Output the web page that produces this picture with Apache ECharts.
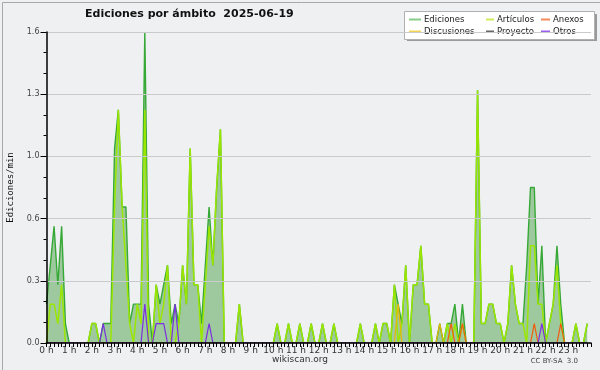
<!DOCTYPE html>
<html><head><meta charset="utf-8">
<script src="https://cdn.jsdelivr.net/npm/echarts@6/dist/echarts.min.js"></script>
<style>html,body{margin:0;padding:0;background:#eff0f1}#c{width:600px;height:370px}</style>
</head><body><div id="c"></div>
<script>
// 10-minute bins, values in edits per minute (144 bins = 24 h)
var hourLabels = ['0 h','1 h','2 h','3 h','4 h','5 h','6 h','7 h','8 h','9 h','10 h','11 h','12 h','13 h','14 h','15 h','16 h','17 h','18 h','19 h','20 h','21 h','22 h','23 h'];
var yTicks = [0, 0.32, 0.64, 0.96, 1.28, 1.6];
var ediciones = [
 0.2,0.4,0.6,0.3,0.6,0.1, 0,0,0,0,0,0, 0.1,0.1,0,0.1,0.1,0.1, 1.0,1.2,0.7,0.7,0.1,0.2,
 0.2,0.2,1.6,0.2,0,0.3, 0.2,0.3,0.4,0.1,0.2,0.1, 0.4,0.2,1.0,0.3,0.3,0.1, 0.4,0.7,0.4,0.8,1.1,0,
 0,0,0,0.2,0,0, 0,0,0,0,0,0, 0,0.1,0,0,0.1,0, 0,0.1,0,0,0.1,0,
 0,0.1,0,0,0.1,0, 0,0,0,0,0,0.1, 0,0,0,0.1,0,0.1, 0.1,0,0.3,0.2,0.1,0.4,
 0,0.3,0.3,0.5,0.2,0.2, 0,0,0.1,0,0.1,0.1, 0.2,0,0.2,0,0,0, 1.3,0.1,0.1,0.2,0.2,0.1,
 0.1,0,0.1,0.4,0.2,0.1, 0.1,0.4,0.8,0.8,0.2,0.5, 0,0.1,0.2,0.5,0.2,0, 0,0,0.1,0,0,0.1
];
var articulos = [
 0,0.2,0.2,0.1,0.3,0, 0,0,0,0,0,0, 0.1,0.1,0,0,0,0, 0.7,1.2,0.7,0.4,0.1,0,
 0.2,0.1,1.2,0,0,0.3, 0.1,0.2,0.4,0,0,0.1, 0.4,0.2,1.0,0.3,0.3,0, 0.3,0.6,0.4,0.8,1.1,0,
 0,0,0,0.2,0,0, 0,0,0,0,0,0, 0,0.1,0,0,0.1,0, 0,0.1,0,0,0.1,0,
 0,0.1,0,0,0.1,0, 0,0,0,0,0,0.1, 0,0,0,0.1,0,0.1, 0.1,0,0.3,0,0.1,0.4,
 0,0.3,0.3,0.5,0.2,0.2, 0,0,0,0,0.1,0, 0.1,0,0.1,0,0,0, 1.3,0.1,0.1,0.2,0.2,0.1,
 0.1,0,0.1,0.4,0.2,0.1, 0.1,0,0.5,0.5,0.2,0.2, 0,0.1,0.2,0.4,0.1,0, 0,0,0.1,0,0,0.1
];
var anexos = [
 0,0,0,0,0,0, 0,0,0,0,0,0, 0,0,0,0,0,0, 0,0,0,0,0,0,
 0,0,0,0,0,0, 0,0,0,0,0,0, 0,0,0,0,0,0, 0,0,0,0,0,0,
 0,0,0,0,0,0, 0,0,0,0,0,0, 0,0,0,0,0,0, 0,0,0,0,0,0,
 0,0,0,0,0,0, 0,0,0,0,0,0, 0,0,0,0,0,0, 0,0,0,0,0,0,
 0,0,0,0,0,0, 0,0,0,0,0,0.1, 0,0,0.1,0,0,0, 0,0,0,0,0,0,
 0,0,0,0,0,0, 0,0,0,0.1,0,0, 0,0,0,0,0.1,0, 0,0,0,0,0,0
];
var discusiones = [
 0,0,0,0,0,0, 0,0,0,0,0,0, 0,0,0,0,0,0, 0,0,0,0,0,0,
 0,0,0,0,0,0, 0,0,0,0,0,0, 0,0,0,0,0,0, 0,0,0,0,0,0,
 0,0,0,0,0,0, 0,0,0,0,0,0, 0,0,0,0,0,0, 0,0,0,0,0,0,
 0,0,0,0,0,0, 0,0,0,0,0,0, 0,0,0,0,0,0, 0,0,0,0.2,0,0,
 0,0,0,0,0,0, 0,0,0.1,0,0,0, 0,0,0,0,0,0, 0,0,0,0,0,0,
 0,0,0,0,0,0, 0,0,0,0,0,0, 0,0,0,0,0,0, 0,0,0,0,0,0
];
var proyecto = [
 0,0,0,0,0,0, 0,0,0,0,0,0, 0,0,0,0,0,0, 0,0,0,0,0,0,
 0,0,0,0,0,0, 0,0,0,0,0,0, 0,0,0,0,0,0, 0,0,0,0,0,0,
 0,0,0,0,0,0, 0,0,0,0,0,0, 0,0,0,0,0,0, 0,0,0,0,0,0,
 0,0,0,0,0,0, 0,0,0,0,0,0, 0,0,0,0,0,0, 0,0,0,0,0,0,
 0,0,0,0,0,0, 0,0,0,0,0,0, 0,0,0,0,0,0, 0,0,0,0,0,0,
 0,0,0,0,0,0, 0,0,0,0,0,0, 0,0,0,0,0,0, 0,0,0,0,0,0
];
var otros = [
 0,0,0,0,0,0, 0,0,0,0,0,0, 0,0,0,0.1,0,0, 0,0,0,0,0,0,
 0,0,0.2,0,0,0.1, 0.1,0.1,0,0,0.2,0, 0,0,0,0,0,0, 0,0.1,0,0,0,0,
 0,0,0,0,0,0, 0,0,0,0,0,0, 0,0,0,0,0,0, 0,0,0,0,0,0,
 0,0,0,0,0,0, 0,0,0,0,0,0, 0,0,0,0,0,0, 0,0,0,0,0,0,
 0,0,0,0,0,0, 0,0,0,0,0,0, 0,0,0,0,0,0, 0,0,0,0,0,0,
 0,0,0,0,0,0, 0,0,0,0,0,0.1, 0,0,0,0,0,0, 0,0,0,0,0,0
];

function pairs(arr){ return arr.map(function(v,i){ return [i, v]; }); }
var FONT = 'DejaVu Sans';
var chart = echarts.init(document.getElementById('c'), null, {renderer:'canvas'});

function lineSeries(name, data, color, width, z){
  return {name:name, type:'line', data:pairs(data), symbol:'none', z:z,
          lineStyle:{color:color, width:width}, itemStyle:{color:color}};
}
var sEd = lineSeries('Ediciones', ediciones, '#36a836', 1.4, 3);
sEd.areaStyle = {color:'#9ec99e', opacity:1};

var legendBase = {orient:'vertical', top:14, itemHeight:2, itemGap:1, icon:'rect',
  textStyle:{fontFamily:FONT, fontSize:8.5, color:'#222', lineHeight:11, padding:[0,0,0,-2]}, padding:0, selectedMode:false};

chart.setOption({
  animation:false,
  backgroundColor:'#eff0f1',
  title:{text:'Ediciones por ámbito  2025-06-19', left:85, top:9, padding:0,
    textStyle:{fontFamily:FONT, fontSize:11, fontWeight:'bold', color:'#111'}},
  grid:{left:46.5, right:9, top:32, bottom:27, containLabel:false, outerBoundsMode:'none'},
  legend:[
    Object.assign({}, legendBase, {left:409, itemWidth:12, data:[{name:'Ediciones', itemStyle:{color:'#88cc88'}},{name:'Discusiones', itemStyle:{color:'#f5d45a'}}]}),
    Object.assign({}, legendBase, {left:486, itemWidth:8, data:[{name:'Artículos', itemStyle:{color:'#cdee5a'}},{name:'Proyecto', itemStyle:{color:'#666666'}}]}),
    Object.assign({}, legendBase, {left:541, itemWidth:9, data:[{name:'Anexos', itemStyle:{color:'#f58a5a'}},{name:'Otros', itemStyle:{color:'#9a5ef0'}}]})
  ],
  xAxis:{type:'value', min:0, max:144, interval:6, z:10,
    axisLine:{lineStyle:{color:'#000', width:1.5}},
    axisTick:{show:true, length:4, lineStyle:{color:'#000'}},
    minorTick:{show:true, splitNumber:6, length:4, lineStyle:{color:'#000'}},
    splitLine:{show:false},
    axisLabel:{fontFamily:FONT, fontSize:9, color:'#333', margin:3, showMaxLabel:false,
      formatter:function(v){ return hourLabels[v/6] || ''; }}},
  yAxis:{type:'value', min:yTicks[0], max:yTicks[yTicks.length-1], interval:yTicks[1], z:10,
    name:'Ediciones/min', nameLocation:'middle', nameGap:31, nameRotate:90,
    nameTextStyle:{fontFamily:'DejaVu Sans Mono', fontSize:9, color:'#111'},
    axisLine:{show:true, lineStyle:{color:'#000', width:1.5}},
    axisTick:{show:true, length:6, lineStyle:{color:'#000'}},
    minorTick:{show:true, splitNumber:3, length:3, lineStyle:{color:'#000'}},
    splitLine:{lineStyle:{color:'#c9cacb', width:1}},
    axisLabel:{fontFamily:FONT, fontSize:8, color:'#444', margin:7,
      formatter:function(v){ return v.toFixed(1); }}},
  series:[
    sEd,
    lineSeries('Artículos', articulos, '#9ae600', 1.5, 4),
    lineSeries('Discusiones', discusiones, '#e8b800', 1.2, 5),
    lineSeries('Anexos', anexos, '#f25a10', 1.2, 5),
    lineSeries('Proyecto', proyecto, '#555555', 1.2, 5),
    lineSeries('Otros', otros, '#7a2ee0', 1.2, 6)
  ],
  graphic:[
    {type:'rect', left:0, top:0, shape:{width:599, height:369}, z:-1,
      style:{fill:'none', stroke:'#a8a8a8', lineWidth:1}},
    {type:'rect', left:407, top:14, shape:{width:190, height:27}, z:0,
      style:{fill:'#9a9a9a'}},
    {type:'rect', left:404, top:11, shape:{width:190, height:28}, z:1,
      style:{fill:'#ffffff', stroke:'#b0b0b0', lineWidth:1}},
    {type:'text', left:'center', top:355, z:5,
      style:{text:'wikiscan.org', fontFamily:FONT, fontSize:9, fill:'#333'}},
    {type:'text', right:22, top:358, z:5,
      style:{text:'CC BY-SA  3.0', fontFamily:FONT, fontSize:7, fill:'#444'}}
  ]
});
</script>
</body></html>
